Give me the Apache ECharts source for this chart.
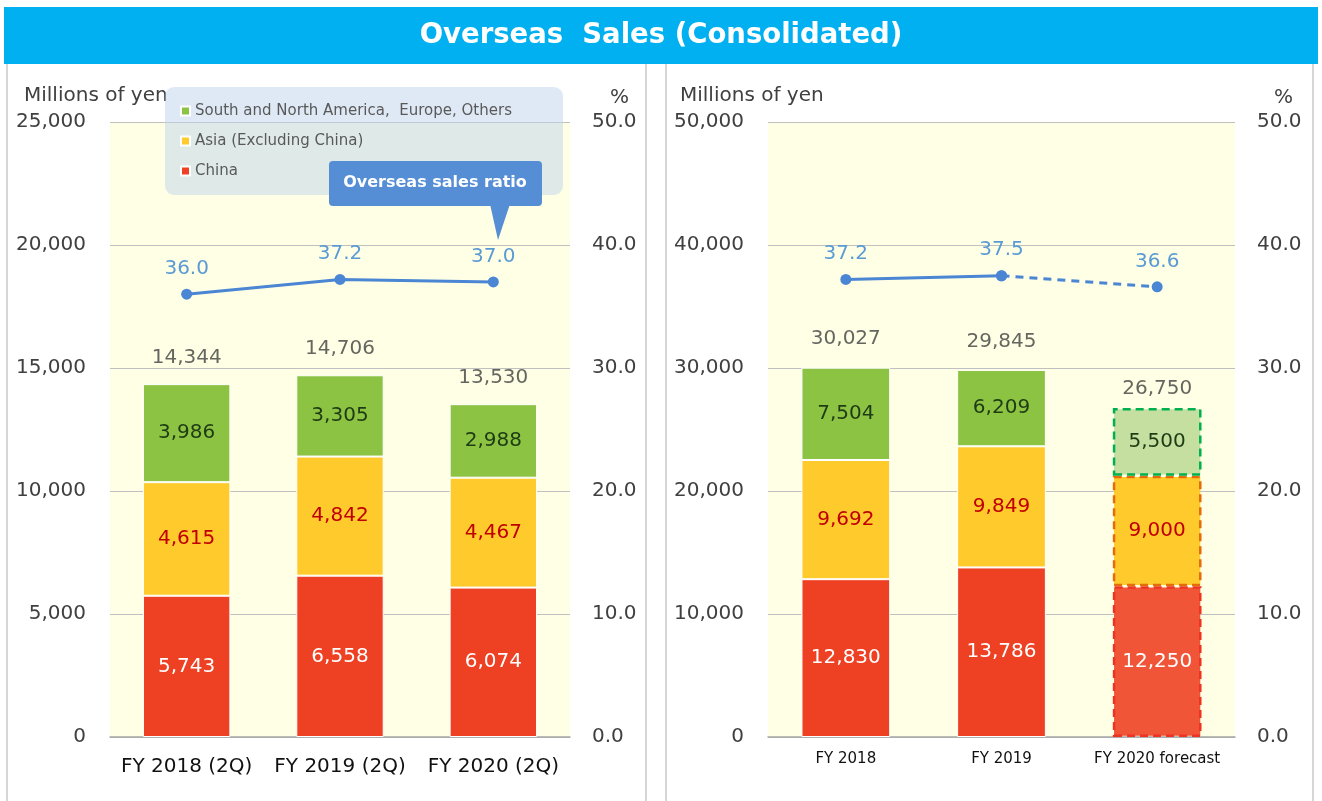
<!DOCTYPE html>
<html>
<head>
<meta charset="utf-8">
<title>Overseas Sales (Consolidated)</title>
<script src="https://cdn.jsdelivr.net/npm/echarts@6/dist/echarts.min.js"></script>
<style>
  html, body { margin: 0; padding: 0; background: #fff; }
  #chart { width: 1322px; height: 801px; }
</style>
</head>
<body>
<div id="chart"></div>
<script>
// left panel: first half (2Q)
const leftCats = ['FY 2018 (2Q)', 'FY 2019 (2Q)', 'FY 2020 (2Q)']
const leftChina = [5743, 6558, 6074]
const leftAsia = [4615, 4842, 4467]
const leftOther = [3986, 3305, 2988]
const leftTotal = [14344, 14706, 13530]
const leftRatio = [36.0, 37.2, 37.0]

// right panel: full year (last one is forecast)
const rightCats = ['FY 2018', 'FY 2019', 'FY 2020 forecast']
const rightChina = [12830, 13786, 12250]
const rightAsia = [9692, 9849, 9000]
const rightOther = [7504, 6209, 5500]
const rightTotal = [30027, 29845, 26750]
const rightRatio = [37.2, 37.5, 36.6]

const amountTicks = [0, 5000, 10000, 15000, 20000, 25000]
const ratioTicks = [0, 10, 20, 30, 40, 50]

const FONT = 'DejaVu Sans'
const C_CHINA = '#EE4023'
const C_ASIA = '#FFCA2C'
const C_OTHER = '#8DC343'
const C_LINE = '#4A86D4'
const C_RATIO_LABEL = '#5B9BD5'

const fmt = v => Number(v).toLocaleString('en-US')

const chart = echarts.init(document.getElementById('chart'))

function valueAxis(gridIndex, max, interval, right) {
  return {
    type: 'value',
    gridIndex: gridIndex,
    min: 0,
    max: max,
    interval: interval,
    position: right ? 'right' : 'left',
    axisLine: { show: false },
    axisTick: { show: false },
    axisLabel: {
      fontFamily: FONT,
      fontSize: 20,
      color: '#404040',
      margin: right ? 22 : 24,
      formatter: right ? (v => v.toFixed(1)) : (v => fmt(v))
    },
    splitLine: right ? { show: false } : { lineStyle: { color: '#C0C0C0', width: 1 } }
  }
}

function catAxis(gridIndex, data, size, margin) {
  return {
    type: 'category',
    gridIndex: gridIndex,
    data: data,
    axisLine: { lineStyle: { color: '#A6A6A6', width: 1.5 } },
    axisTick: { show: false },
    axisLabel: { interval: 0, fontFamily: FONT, fontSize: size, color: '#111', margin: margin }
  }
}

function segLabel(color) {
  return {
    show: true,
    position: 'inside',
    fontFamily: FONT,
    fontSize: 20,
    color: color,
    formatter: p => fmt(p.value)
  }
}

// stacked bar for one region; forecast index gets a dashed, lighter look
function stackSeries(name, values, fill, labelColor, axisIdx, stack, forecastStyle) {
  return {
    name: name,
    type: 'bar',
    stack: stack,
    xAxisIndex: axisIdx,
    yAxisIndex: axisIdx * 2,
    barWidth: '57%',
    itemStyle: { color: fill, borderColor: '#fff', borderWidth: 1 },
    label: segLabel(labelColor),
    data: values.map((v, i) => {
      if (forecastStyle && i === values.length - 1) {
        return { value: v, itemStyle: forecastStyle }
      }
      return v
    })
  }
}

function totalSeries(values, axisIdx, dist, lastDist) {
  return {
    type: 'scatter',
    xAxisIndex: axisIdx,
    yAxisIndex: axisIdx * 2,
    symbolSize: 1,
    itemStyle: { color: 'rgba(0,0,0,0)' },
    silent: true,
    z: 5,
    label: {
      show: true,
      position: 'top',
      distance: dist,
      fontFamily: FONT,
      fontSize: 20,
      color: '#404040',
      formatter: p => fmt(p.value)
    },
    data: values.map((v, i) => (lastDist != null && i === values.length - 1
      ? { value: v, label: { distance: lastDist } } : v))
  }
}

function ratioLabel() {
  return {
    show: true,
    position: 'top',
    distance: 10,
    fontFamily: FONT,
    fontSize: 20,
    color: C_RATIO_LABEL,
    formatter: p => Number(p.value).toFixed(1)
  }
}

const option = {
  animation: false,
  backgroundColor: '#fff',
  title: {
    text: 'Overseas  Sales (Consolidated)',
    left: 'center',
    top: 17,
    textStyle: { fontFamily: FONT, fontSize: 27.5, fontWeight: 'bold', color: '#fff' },
    z: 10
  },
  legend: {
    orient: 'vertical',
    left: 175,
    top: 98,
    itemWidth: 9,
    itemHeight: 9,
    itemGap: 14,
    icon: 'rect',
    data: ['South and North America,  Europe, Others', 'Asia (Excluding China)', 'China'],
    textStyle: { fontFamily: FONT, fontSize: 15, color: '#595959', lineHeight: 16 },
    z: 6
  },
  grid: [
    { left: 110, right: 752, top: 122, bottom: 64, show: true, backgroundColor: '#FFFFE5', borderWidth: 0 },
    { left: 768, right: 87, top: 122, bottom: 64, show: true, backgroundColor: '#FFFFE5', borderWidth: 0 }
  ],
  xAxis: [
    catAxis(0, leftCats, 20, 20),
    catAxis(1, rightCats, 15, 15)
  ],
  yAxis: [
    valueAxis(0, amountTicks[amountTicks.length - 1], amountTicks[1], false),
    valueAxis(0, ratioTicks[ratioTicks.length - 1], ratioTicks[1], true),
    valueAxis(1, amountTicks[amountTicks.length - 1] * 2, amountTicks[1] * 2, false),
    valueAxis(1, ratioTicks[ratioTicks.length - 1], ratioTicks[1], true)
  ],
  graphic: [
    // title band
    { type: 'rect', shape: { x: 4, y: 7, width: 1314, height: 57 }, style: { fill: '#00B0F0' }, z: 1 },
    // panel frames
    { type: 'line', shape: { x1: 7, y1: 64, x2: 7, y2: 801 }, style: { stroke: '#C8C8C8', lineWidth: 1.5 } },
    { type: 'line', shape: { x1: 646, y1: 64, x2: 646, y2: 801 }, style: { stroke: '#C8C8C8', lineWidth: 1.5 } },
    { type: 'line', shape: { x1: 666, y1: 64, x2: 666, y2: 801 }, style: { stroke: '#C8C8C8', lineWidth: 1.5 } },
    { type: 'line', shape: { x1: 1313, y1: 64, x2: 1313, y2: 801 }, style: { stroke: '#C8C8C8', lineWidth: 1.5 } },
    // axis captions
    { type: 'text', left: 24, top: 86, style: { text: 'Millions of yen', fontFamily: FONT, fontSize: 20, fill: '#404040' } },
    { type: 'text', left: 610, top: 88, style: { text: '%', fontFamily: FONT, fontSize: 20, fill: '#404040' } },
    { type: 'text', left: 680, top: 86, style: { text: 'Millions of yen', fontFamily: FONT, fontSize: 20, fill: '#404040' } },
    { type: 'text', left: 1274, top: 88, style: { text: '%', fontFamily: FONT, fontSize: 20, fill: '#404040' } },
    // legend panel
    { type: 'rect', shape: { x: 165, y: 87, width: 398, height: 108, r: 9 }, style: { fill: 'rgba(191,211,235,0.5)' }, z: 3 },
    // callout for the ratio line
    { type: 'polygon', shape: { points: [[490, 204], [510, 204], [498, 240]] }, style: { fill: '#558ED5' }, z: 4 },
    { type: 'rect', shape: { x: 329, y: 161, width: 213, height: 45, r: 4 }, style: { fill: '#558ED5' }, z: 4 },
    { type: 'text', x: 435, y: 183, style: { text: 'Overseas sales ratio', fontFamily: FONT, fontSize: 16, fontWeight: 'bold', fill: '#fff', align: 'center', verticalAlign: 'middle' }, z: 5 }
  ],
  series: [
    stackSeries('China', leftChina, C_CHINA, '#fff', 0, 'left'),
    stackSeries('Asia (Excluding China)', leftAsia, C_ASIA, '#C00000', 0, 'left'),
    stackSeries('South and North America,  Europe, Others', leftOther, C_OTHER, '#1E3B14', 0, 'left'),
    totalSeries(leftTotal, 0, 16),
    {
      type: 'line',
      xAxisIndex: 0,
      yAxisIndex: 1,
      symbol: 'circle',
      symbolSize: 11,
      lineStyle: { color: C_LINE, width: 3 },
      itemStyle: { color: C_LINE },
      label: ratioLabel(),
      z: 6,
      data: leftRatio
    },
    stackSeries('China', rightChina, C_CHINA, '#fff', 1, 'right',
      { color: '#F05538', borderColor: '#EE3322', borderWidth: 2.5, borderType: [8, 5] }),
    stackSeries('Asia (Excluding China)', rightAsia, C_ASIA, '#C00000', 1, 'right',
      { color: '#FFCA2C', borderColor: '#E46C0A', borderWidth: 2.5, borderType: [8, 5] }),
    stackSeries('South and North America,  Europe, Others', rightOther, C_OTHER, '#1E3B14', 1, 'right',
      { color: '#C4DFA0', borderColor: '#00B050', borderWidth: 2.5, borderType: [8, 5] }),
    totalSeries(rightTotal, 1, 18, 9),
    {
      type: 'line',
      xAxisIndex: 1,
      yAxisIndex: 3,
      symbol: 'circle',
      symbolSize: 11,
      lineStyle: { color: C_LINE, width: 3 },
      itemStyle: { color: C_LINE },
      label: ratioLabel(),
      z: 6,
      data: rightRatio.map((v, i) => (i < 2 ? v : '-'))
    },
    {
      type: 'line',
      xAxisIndex: 1,
      yAxisIndex: 3,
      symbol: 'circle',
      symbolSize: 11,
      lineStyle: { color: C_LINE, width: 3, type: [8, 6] },
      itemStyle: { color: C_LINE },
      label: ratioLabel(),
      z: 6,
      data: rightRatio.map((v, i) => (i === 0 ? '-' : i === 1 ? { value: v, label: { show: false } } : v))
    }
  ]
}

chart.setOption(option)
</script>
</body>
</html>
